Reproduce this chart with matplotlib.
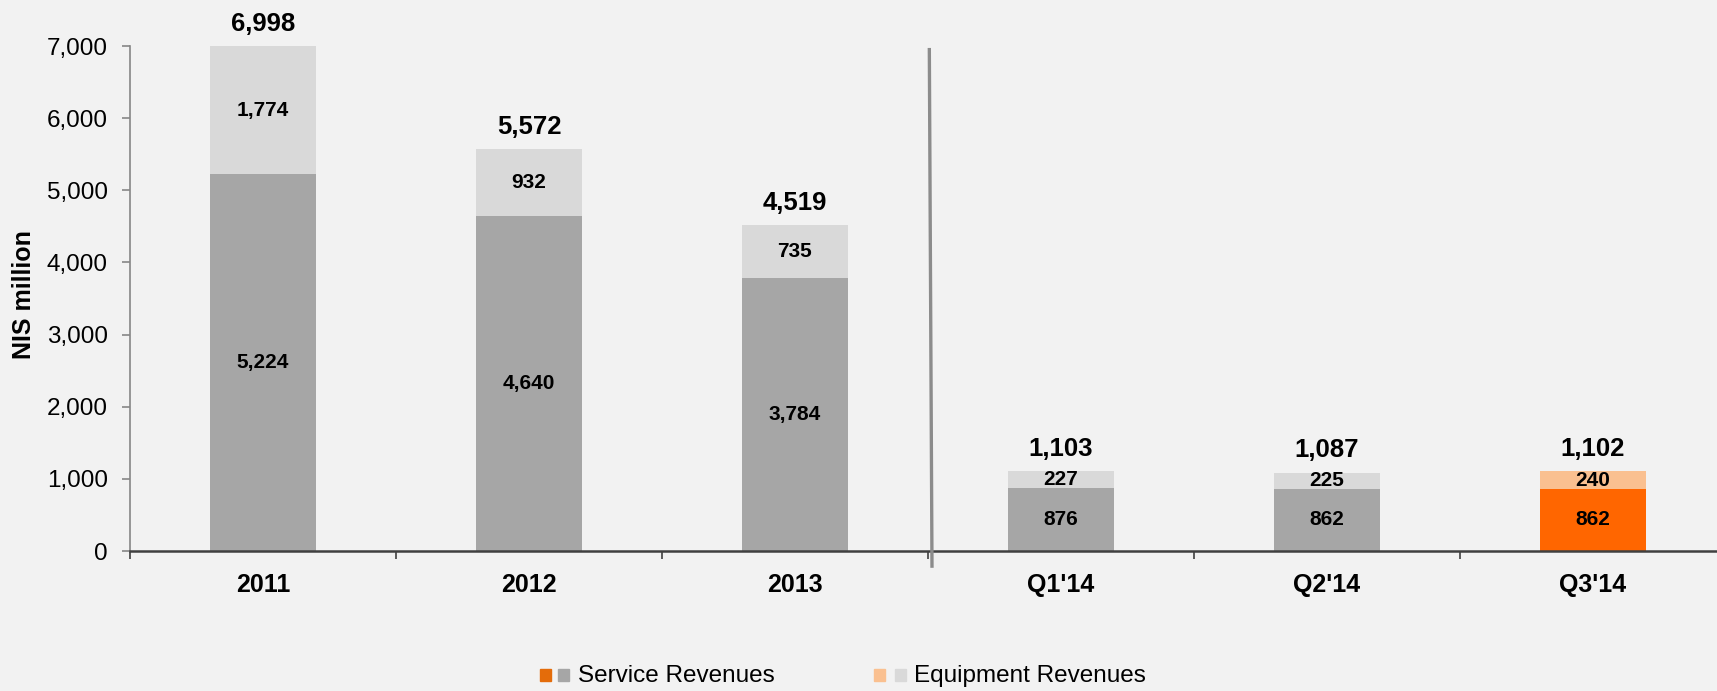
import numpy as np
import matplotlib.pyplot as plt
from matplotlib.patches import Rectangle
from matplotlib.lines import Line2D

plt.rcParams['font.family'] = ['Liberation Sans', 'DejaVu Sans']

# revenue breakdown, NIS million
periods = ["2011", "2012", "2013", "Q1'14", "Q2'14", "Q3'14"]
service = [5224, 4640, 3784, 876, 862, 862]
equipment = [1774, 932, 735, 227, 225, 240]

bg = '#F2F2F2'
service_colors = ['#A6A6A6'] * 5 + ['#FF6600']
equip_colors = ['#D9D9D9'] * 5 + ['#FAC090']

W, H = 1717, 691
fig = plt.figure(figsize=(W / 100, H / 100), dpi=100, facecolor=bg)
ax = fig.add_axes([130 / W, 1 - 551 / H, 1596 / W, 505 / H], facecolor=bg)

x = np.arange(len(periods))
service = np.array(service)
equipment = np.array(equipment)
totals = service + equipment

ax.bar(x, service, width=0.4, color=service_colors, zorder=2)
ax.bar(x, equipment, width=0.4, bottom=service, color=equip_colors, zorder=2)

# values inside each segment
for xi, s, e in zip(x, service, equipment):
    ax.text(xi, s / 2, f'{s:,}', ha='center', va='center',
            fontsize=15, fontweight='bold', zorder=3)
    ax.text(xi, s + e / 2, f'{e:,}', ha='center', va='center',
            fontsize=15, fontweight='bold', zorder=3)

# totals above bars
for xi, t in zip(x, totals):
    ax.annotate(f'{t:,}', (xi, t), xytext=(0, 11), textcoords='offset points',
                ha='center', va='baseline', fontsize=18.5, fontweight='bold')

ax.set_xlim(-0.5, len(periods) - 0.5)
ax.set_ylim(0, 7000)
ax.set_yticks(np.arange(0, 7001, 1000))
ax.set_yticklabels([f'{v:,}' for v in range(0, 7001, 1000)])
ax.tick_params(axis='y', direction='out', length=6, width=1.2,
               color='#868686', labelsize=17.5, pad=10)

ax.set_xticks(x)
ax.set_xticklabels(periods, fontsize=18, fontweight='bold')
ax.set_xticks(np.arange(-0.5, len(periods)), minor=True)
ax.tick_params(axis='x', which='major', length=0, pad=16)
ax.tick_params(axis='x', which='minor', direction='out', length=6,
               width=1.2, color='#404040')

for side in ('top', 'right'):
    ax.spines[side].set_visible(False)
ax.spines['left'].set_color('#868686')
ax.spines['left'].set_linewidth(1.2)
ax.spines['bottom'].set_color('#404040')
ax.spines['bottom'].set_linewidth(1.8)

ax.set_ylabel('NIS million', fontsize=18, fontweight='bold')
ax.yaxis.label.set_va('center')
ax.yaxis.set_label_coords((24 - 130) / 1596, (551 - 295) / 505)

# divider between annual and quarterly figures
ax.add_line(Line2D([2.505, 2.515], [6950, -210], color='#8C8C8C',
                   linewidth=2.4, clip_on=False, zorder=4))

# legend: paired swatches for the highlighted and regular colours
def swatch(px, color):
    fig.add_artist(Rectangle((px / W, 1 - 681 / H), 11 / W, 12 / H,
                             color=color, transform=fig.transFigure))

swatch(540, '#E46C0A')
swatch(558, '#A6A6A6')
fig.text(578 / W, 1 - 676 / H, 'Service Revenues', fontsize=17.5, va='center')
swatch(874, '#FAC090')
swatch(895, '#D9D9D9')
fig.text(914 / W, 1 - 676 / H, 'Equipment Revenues', fontsize=17.5, va='center')

fig.savefig('out.png', dpi=100, facecolor=bg)
